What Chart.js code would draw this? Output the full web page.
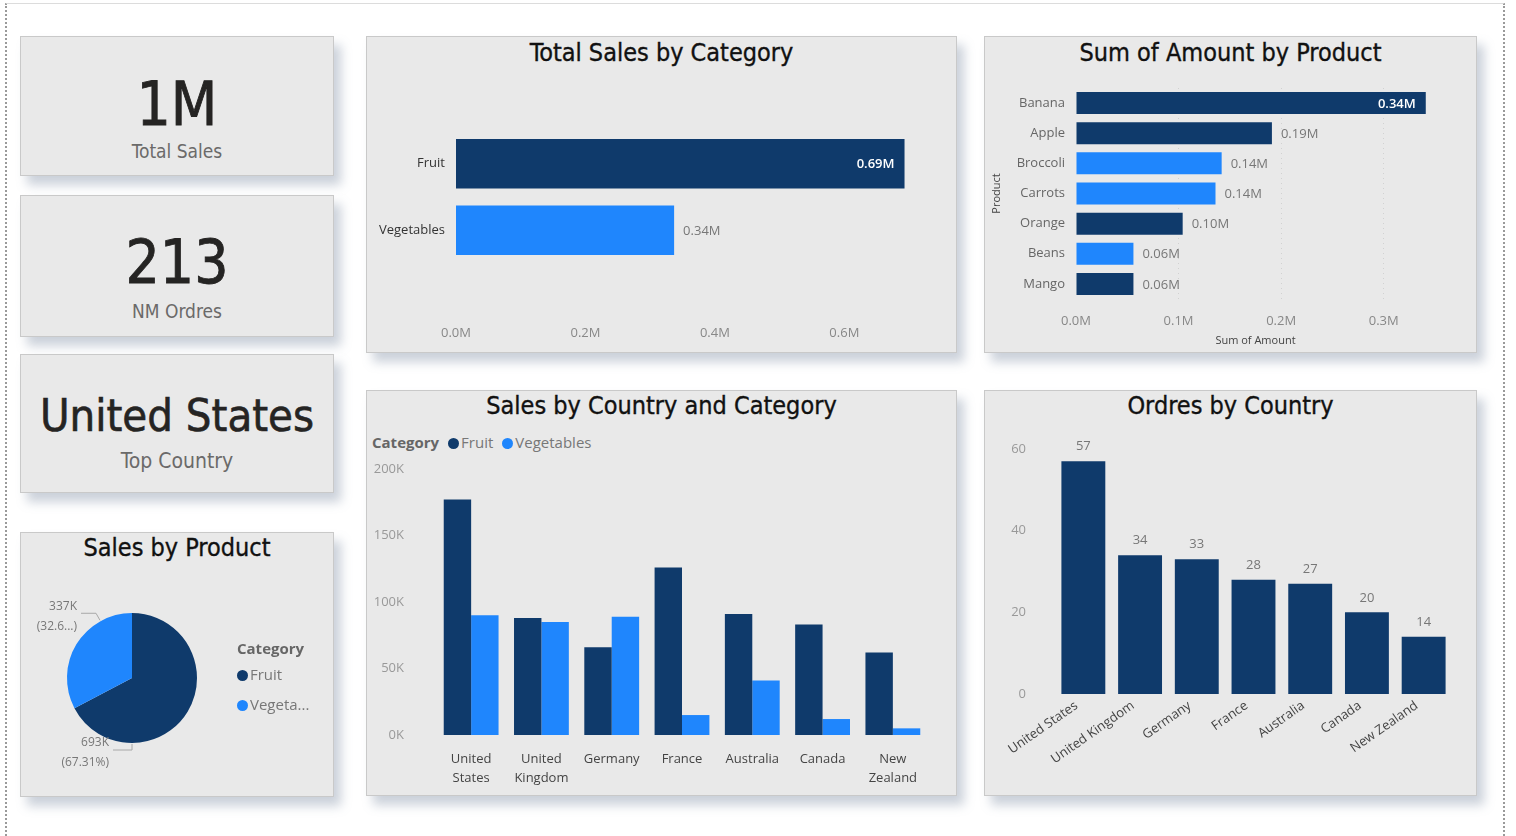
<!DOCTYPE html>
<html>
<head>
<meta charset="utf-8">
<title>Sales Dashboard</title>
<script src="https://cdn.jsdelivr.net/npm/chart.js@4.4.1/dist/chart.umd.min.js"></script>
<style>
  body { margin: 0; width: 1516px; height: 836px; overflow: hidden; position: relative; background: #fff; font-family: "Open Sans", sans-serif; }
  .frame { position: absolute; left: 5px; top: 3px; width: 1496px; height: 860px; border-left: 2px dotted #9a9a9a; border-right: 2px dotted #9a9a9a; border-top: 1px solid #dcdcdc; }
  .card { position: absolute; background: #e9e9e9; border: 1px solid #c9c9c9; box-sizing: border-box; box-shadow: 7px 9px 10px rgba(105, 122, 150, 0.35); }
  .card canvas { position: absolute; left: 0; top: 0; }
  .title { position: absolute; left: 0; right: 0; text-align: center; font-family: "DejaVu Sans Condensed", "DejaVu Sans", sans-serif; font-stretch: condensed; font-size: 25px; color: #111; line-height: 30px; -webkit-text-stroke: 0.35px #111; }
  .kpi { font-family: "DejaVu Sans Condensed", "DejaVu Sans", sans-serif; font-stretch: condensed; text-align: center; position: absolute; left: 0; right: 0; }
  .kpi-value { color: #252423; line-height: 1; -webkit-text-stroke: 0.8px #252423; }
  .kpi-label { color: #6b6a69; font-size: 19px; line-height: 1; }
  .legend { position: absolute; font-size: 15px; color: #777; white-space: nowrap; }
  .legend b { color: #666; font-weight: 700; }
  .dot { display: inline-block; width: 11px; height: 11px; border-radius: 50%; vertical-align: -1px; margin-right: 2px; }
  .gap { margin-left: 9px; }
</style>
</head>
<body>
<div class="frame"></div>

<div class="card" style="left:20px;top:36px;width:314px;height:140px">
  <div class="kpi kpi-value" id="kpiSales" style="top:37px;font-size:60px"></div>
  <div class="kpi kpi-label" style="top:105px">Total Sales</div>
</div>
<div class="card" style="left:20px;top:195px;width:314px;height:142px">
  <div class="kpi kpi-value" id="kpiOrders" style="top:36px;font-size:60px"></div>
  <div class="kpi kpi-label" style="top:106px">NM Ordres</div>
</div>
<div class="card" style="left:20px;top:354px;width:314px;height:139px">
  <div class="kpi kpi-value" id="kpiCountry" style="top:38px;font-size:45px;-webkit-text-stroke:0.6px #252423"></div>
  <div class="kpi kpi-label" style="top:96px;font-size:21px">Top Country</div>
</div>

<div class="card" style="left:20px;top:532px;width:314px;height:265px">
  <div class="title" style="top:0px;font-size:25px">Sales by Product</div>
  <canvas id="pieChart" width="312" height="263"></canvas>
  <div class="legend" style="left:216px;top:105px"><b>Category</b></div>
  <div class="legend" style="left:216px;top:131px"><span class="dot" style="background:#0f3a6b"></span>Fruit</div>
  <div class="legend" style="left:216px;top:161px"><span class="dot" style="background:#1f86fd"></span>Vegeta...</div>
</div>

<div class="card" style="left:366px;top:36px;width:591px;height:317px">
  <div class="title" style="top:1px">Total Sales by Category</div>
  <canvas id="categoryChart" width="589" height="315"></canvas>
</div>

<div class="card" style="left:984px;top:36px;width:493px;height:317px">
  <div class="title" style="top:1px">Sum of Amount by Product</div>
  <canvas id="productChart" width="491" height="315"></canvas>
</div>

<div class="card" style="left:366px;top:390px;width:591px;height:406px">
  <div class="title" style="top:0px">Sales by Country and Category</div>
  <div class="legend" style="left:5px;top:41px"><b>Category</b><span class="dot gap" style="background:#0f3a6b"></span>Fruit<span class="dot gap" style="background:#1f86fd"></span>Vegetables</div>
  <canvas id="countryCategoryChart" width="589" height="404"></canvas>
</div>

<div class="card" style="left:984px;top:390px;width:493px;height:406px">
  <div class="title" style="top:0px">Ordres by Country</div>
  <canvas id="ordersChart" width="491" height="404"></canvas>
</div>

<script>
// ---- data ----
const totalSales = '1M';
const totalOrders = '213';
const topCountry = 'United States';

const categories = ['Fruit', 'Vegetables'];
const categorySales = [0.693, 0.337];          // millions

const products = ['Banana', 'Apple', 'Broccoli', 'Carrots', 'Orange', 'Beans', 'Mango'];
const productCategory = ['Fruit', 'Fruit', 'Vegetables', 'Vegetables', 'Fruit', 'Vegetables', 'Fruit'];
const productAmount = [0.341, 0.191, 0.142, 0.136, 0.104, 0.056, 0.056];   // millions

const countries = ['United States', 'United Kingdom', 'Germany', 'France', 'Australia', 'Canada', 'New Zealand'];
const fruitSales = [177, 88, 66, 126, 91, 83, 62];     // thousands
const vegSales = [90, 85, 89, 15, 41, 12, 5];          // thousands
const orders = [57, 34, 33, 28, 27, 20, 14];

const pieSales = [693.4, 336.8];                        // thousands, Fruit / Vegetables

const DARK = '#0f3a6b';
const BRIGHT = '#1f86fd';
const colorOf = { Fruit: DARK, Vegetables: BRIGHT };

document.getElementById('kpiSales').innerText = totalSales;
document.getElementById('kpiOrders').innerText = totalOrders;
document.getElementById('kpiCountry').innerText = topCountry;

Chart.defaults.font.family = '"Open Sans", sans-serif';
Chart.defaults.font.size = 13;
Chart.defaults.color = '#888';
Chart.defaults.animation = false;
Chart.defaults.plugins.legend.display = false;
Chart.defaults.plugins.tooltip.enabled = false;

// value labels at the end of bars
const valueLabels = {
  id: 'valueLabels',
  afterDatasetsDraw(chart, args, opts) {
    if (!opts.format) return;
    const ctx = chart.ctx;
    const horizontal = chart.options.indexAxis === 'y';
    ctx.save();
    chart.data.datasets.forEach((ds, di) => {
      chart.getDatasetMeta(di).data.forEach((bar, i) => {
        const text = opts.format(ds.data[i]);
        ctx.font = '13px "Open Sans"';
        const w = ctx.measureText(text).width;
        if (horizontal) {
          ctx.textBaseline = 'middle';
          if (bar.x + 10 + w > chart.chartArea.right) {
            ctx.font = '600 13px "Open Sans"';
            ctx.fillStyle = '#fff';
            ctx.textAlign = 'right';
            ctx.fillText(text, bar.x - 10, bar.y + 1);
          } else {
            ctx.fillStyle = '#777';
            ctx.textAlign = 'left';
            ctx.fillText(text, bar.x + 9, bar.y + 1);
          }
        } else {
          ctx.fillStyle = '#777';
          ctx.textAlign = 'center';
          ctx.textBaseline = 'bottom';
          ctx.fillText(text, bar.x, bar.y - 8);
        }
      });
    });
    ctx.restore();
  }
};

// pie labels with leader lines
function fitText(ctx, text, maxWidth) {
  if (ctx.measureText(text).width <= maxWidth) return text;
  let t = text;
  while (t.length > 1 && ctx.measureText(t + '...)').width > maxWidth) t = t.slice(0, -1);
  return t + '...)';
}

const pieLabels = {
  id: 'pieLabels',
  afterDraw(chart, args, opts) {
    const ctx = chart.ctx;
    const data = chart.data.datasets[0].data;
    const total = data.reduce((a, b) => a + b, 0);
    ctx.save();
    ctx.font = '12px "Open Sans"';
    ctx.strokeStyle = '#a8a8a8';
    ctx.lineWidth = 1;
    chart.getDatasetMeta(0).data.forEach((arc, i) => {
      const a = opts.angles[i] * Math.PI / 180;
      const r = arc.outerRadius + 1;
      const px = arc.x + Math.sin(a) * r;
      const py = arc.y - Math.cos(a) * r;
      const ey = py + opts.dy[i];
      const ex = px + opts.dx[i];
      const hx = ex - opts.len[i];
      ctx.beginPath();
      ctx.moveTo(px, py);
      ctx.lineTo(ex, ey);
      ctx.lineTo(hx, ey);
      ctx.stroke();
      const tr = hx - 4;
      ctx.fillStyle = '#777';
      ctx.textAlign = 'right';
      ctx.textBaseline = 'middle';
      ctx.fillText(Math.round(data[i]) + 'K', tr, ey - 7);
      const pct = '(' + (data[i] / total * 100).toFixed(2) + '%)';
      ctx.fillText(fitText(ctx, pct, tr - 12), tr, ey + 13);
    });
    ctx.restore();
  }
};

const plainY = {
  grid: { display: false, drawTicks: false },
  border: { display: false }
};

// Sales by Product (pie)
new Chart(document.getElementById('pieChart'), {
  type: 'pie',
  data: {
    labels: categories,
    datasets: [{ data: pieSales, backgroundColor: [DARK, BRIGHT], borderWidth: 0 }]
  },
  options: {
    responsive: false,
    layout: { padding: { left: 46, right: 136, top: 80, bottom: 53 } },
    plugins: {
      pieLabels: { angles: [180, 331], dx: [0, -4], dy: [6, -7], len: [19, 15] }
    }
  },
  plugins: [pieLabels]
});

// Total Sales by Category
new Chart(document.getElementById('categoryChart'), {
  type: 'bar',
  data: {
    labels: categories,
    datasets: [{
      data: categorySales,
      backgroundColor: categories.map(c => colorOf[c]),
      categoryPercentage: 1,
      barPercentage: 0.746
    }]
  },
  options: {
    indexAxis: 'y',
    responsive: false,
    layout: { padding: { top: 93.5, right: 34, bottom: 0, left: 0 } },
    scales: {
      x: {
        min: 0, max: 0.72,
        grid: { display: false, drawTicks: false },
        border: { display: false },
        afterBuildTicks: s => { s.ticks = [0, 0.2, 0.4, 0.6].map(v => ({ value: v })); },
        afterFit: s => { s.height = 88.5; },
        ticks: { padding: 62, color: '#888', callback: v => v.toFixed(1) + 'M' }
      },
      y: Object.assign({}, plainY, {
        afterFit: s => { s.width = 89; },
        ticks: { padding: 11, color: '#333', font: { size: 13 } }
      })
    },
    plugins: { valueLabels: { format: v => v.toFixed(2) + 'M' } }
  },
  plugins: [valueLabels]
});

// Sum of Amount by Product
new Chart(document.getElementById('productChart'), {
  type: 'bar',
  data: {
    labels: products,
    datasets: [{
      data: productAmount,
      backgroundColor: productCategory.map(c => colorOf[c]),
      categoryPercentage: 1,
      barPercentage: 0.73
    }]
  },
  options: {
    indexAxis: 'y',
    responsive: false,
    layout: { padding: { top: 51, right: 41, bottom: 0, left: 0 } },
    scales: {
      x: {
        min: 0, max: 0.35,
        grid: {
          drawTicks: false,
          color: c => c.tick && c.tick.value > 0 ? 'rgba(0,0,0,0.1)' : 'rgba(0,0,0,0)'
        },
        border: { display: false, dash: [1, 4] },
        afterBuildTicks: s => { s.ticks = [0, 0.1, 0.2, 0.3].map(v => ({ value: v })); },
        afterFit: s => { s.height = 53; },
        ticks: { padding: 14, color: '#888', callback: v => v.toFixed(1) + 'M' },
        title: { display: true, text: 'Sum of Amount', color: '#444', font: { size: 11 }, padding: { top: 0, bottom: 5 } }
      },
      y: Object.assign({}, plainY, {
        afterFit: s => { s.width = 91; },
        ticks: { padding: 11, color: '#666', font: { size: 13 } },
        title: { display: true, text: 'Product', color: '#444', font: { size: 11 }, padding: { top: 5, bottom: 0 } }
      })
    },
    plugins: { valueLabels: { format: v => v.toFixed(2) + 'M' } }
  },
  plugins: [valueLabels]
});

// Sales by Country and Category
new Chart(document.getElementById('countryCategoryChart'), {
  type: 'bar',
  data: {
    labels: countries.map(c => c.split(' ')),
    datasets: [
      { label: 'Fruit', data: fruitSales, backgroundColor: DARK, categoryPercentage: 0.78, barPercentage: 1 },
      { label: 'Vegetables', data: vegSales, backgroundColor: BRIGHT, categoryPercentage: 0.78, barPercentage: 1 }
    ]
  },
  options: {
    responsive: false,
    layout: { padding: { top: 78, right: 28, bottom: 0, left: 0 } },
    scales: {
      x: {
        grid: { display: false, drawTicks: false },
        border: { display: false },
        afterFit: s => { s.height = 60; },
        ticks: { padding: 15, color: '#444', font: { size: 13, lineHeight: 1.45 }, autoSkip: false, maxRotation: 0 }
      },
      y: Object.assign({}, plainY, {
        min: 0, max: 200,
        afterFit: s => { s.width = 69; },
        ticks: { stepSize: 50, padding: 32, color: '#999', callback: v => v + 'K' }
      })
    }
  }
});

// Ordres by Country
new Chart(document.getElementById('ordersChart'), {
  type: 'bar',
  data: {
    labels: countries,
    datasets: [{ data: orders, backgroundColor: DARK, categoryPercentage: 0.774, barPercentage: 1 }]
  },
  options: {
    responsive: false,
    layout: { padding: { top: 58, right: 24, bottom: 0, left: 0 } },
    scales: {
      x: {
        grid: { display: false, drawTicks: false },
        border: { display: false },
        afterFit: s => { s.height = 101; },
        ticks: { padding: 4, labelOffset: -7, color: '#444', font: { size: 13 }, autoSkip: false, minRotation: 35, maxRotation: 35 }
      },
      y: Object.assign({}, plainY, {
        min: 0, max: 60,
        afterFit: s => { s.width = 70; },
        ticks: { stepSize: 20, padding: 29, color: '#999' }
      })
    },
    plugins: { valueLabels: { format: v => String(v) } }
  },
  plugins: [valueLabels]
});
</script>
</body>
</html>
